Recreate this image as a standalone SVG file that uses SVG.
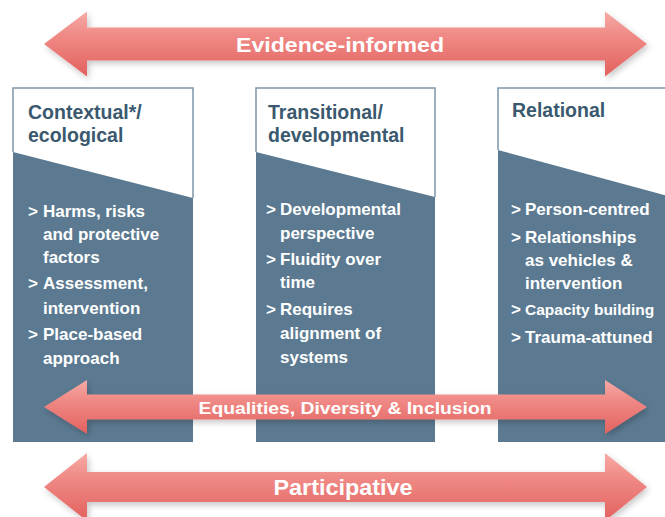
<svg xmlns="http://www.w3.org/2000/svg" width="665" height="517" viewBox="0 0 665 517">
  <defs>
    <linearGradient id="arrowGrad" x1="0" y1="0" x2="0" y2="1">
      <stop offset="0" stop-color="#f6aaa6"/>
      <stop offset="0.35" stop-color="#f08b87"/>
      <stop offset="1" stop-color="#e2615e"/>
    </linearGradient>
    <filter id="shadow" x="-5%" y="-30%" width="110%" height="160%">
      <feDropShadow dx="2" dy="3" stdDeviation="3" flood-color="#000000" flood-opacity="0.22"/>
    </filter>
    <style>
      .box { fill: #5b7a91; }
      .top { fill: #ffffff; }
      .edge { fill: none; stroke: #7e97aa; stroke-width: 1.5; }
      .title { font-family: "Liberation Sans", Arial, sans-serif; font-weight: bold; font-size: 19.5px; fill: #3a596e; }
      .item { font-family: "Liberation Sans", Arial, sans-serif; font-weight: bold; font-size: 17px; fill: #ffffff; }
      .arrow { fill: url(#arrowGrad); filter: url(#shadow); }
      .label { font-family: "Liberation Sans", Arial, sans-serif; font-weight: bold; fill: #ffffff; text-anchor: middle; }
    </style>
  </defs>
  <rect width="665" height="517" fill="#ffffff"/>

  <g id="contextual">
    <rect class="box" x="13" y="88" width="180" height="354"/>
    <polygon class="top" points="13,88 193,88 193,198 13,152"/>
    <polyline class="edge" points="13,152 13,88 193,88 193,198"/>
    <text class="title" x="28" y="119">Contextual*/</text>
    <text class="title" x="28" y="142">ecological</text>
    <text class="item" x="28" y="217">&gt;</text>
    <text class="item" x="43" y="217">Harms, risks</text>
    <text class="item" x="43" y="240">and protective</text>
    <text class="item" x="43" y="263">factors</text>
    <text class="item" x="28" y="289">&gt;</text>
    <text class="item" x="43" y="289">Assessment,</text>
    <text class="item" x="43" y="314">intervention</text>
    <text class="item" x="28" y="340">&gt;</text>
    <text class="item" x="43" y="340">Place-based</text>
    <text class="item" x="43" y="364">approach</text>
  </g>

  <g id="transitional">
    <rect class="box" x="256" y="88" width="179" height="354"/>
    <polygon class="top" points="256,88 435,88 435,197 256,152"/>
    <polyline class="edge" points="256,152 256,88 435,88 435,197"/>
    <text class="title" x="268" y="119">Transitional/</text>
    <text class="title" x="268" y="142">developmental</text>
    <text class="item" x="266" y="215">&gt;</text>
    <text class="item" x="280" y="215">Developmental</text>
    <text class="item" x="280" y="239">perspective</text>
    <text class="item" x="266" y="265">&gt;</text>
    <text class="item" x="280" y="265">Fluidity over</text>
    <text class="item" x="280" y="288">time</text>
    <text class="item" x="266" y="315">&gt;</text>
    <text class="item" x="280" y="315">Requires</text>
    <text class="item" x="280" y="339">alignment of</text>
    <text class="item" x="280" y="363">systems</text>
  </g>

  <g id="relational">
    <rect class="box" x="498" y="88" width="170" height="354"/>
    <polygon class="top" points="498,88 668,88 668,196 498,150"/>
    <polyline class="edge" points="498,150 498,88 668,88"/>
    <text class="title" x="512" y="117">Relational</text>
    <text class="item" x="511" y="215">&gt;</text>
    <text class="item" x="525" y="215">Person-centred</text>
    <text class="item" x="511" y="243">&gt;</text>
    <text class="item" x="525" y="243">Relationships</text>
    <text class="item" x="525" y="266">as vehicles &amp;</text>
    <text class="item" x="525" y="289">intervention</text>
    <text class="item" x="511" y="315">&gt;</text>
    <text class="item" x="525" y="315" style="font-size:15.5px">Capacity building</text>
    <text class="item" x="511" y="343">&gt;</text>
    <text class="item" x="525" y="343">Trauma-attuned</text>
  </g>

  <g id="connectors">
    <g id="evidence-informed">
      <path class="arrow" d="M44,44 L87,11.5 L87,27.5 L605,27.5 L605,11.5 L647,44 L605,76.5 L605,60.5 L87,60.5 L87,76.5 Z"/>
      <text class="label" x="340" y="52" font-size="21" textLength="208" lengthAdjust="spacingAndGlyphs">Evidence-informed</text>
    </g>
    <g id="equalities">
      <path class="arrow" d="M44,407 L87,380 L87,394.5 L605,394.5 L605,380 L647,407 L605,434 L605,419.5 L87,419.5 L87,434 Z"/>
      <text class="label" x="345" y="414" font-size="17" textLength="293" lengthAdjust="spacingAndGlyphs">Equalities, Diversity &amp; Inclusion</text>
    </g>
    <g id="participative">
      <path class="arrow" d="M44,487 L87,453 L87,472 L605,472 L605,453 L647,487 L605,521 L605,502 L87,502 L87,521 Z"/>
      <text class="label" x="343" y="495" font-size="22" textLength="139" lengthAdjust="spacingAndGlyphs">Participative</text>
    </g>
  </g>
</svg>
